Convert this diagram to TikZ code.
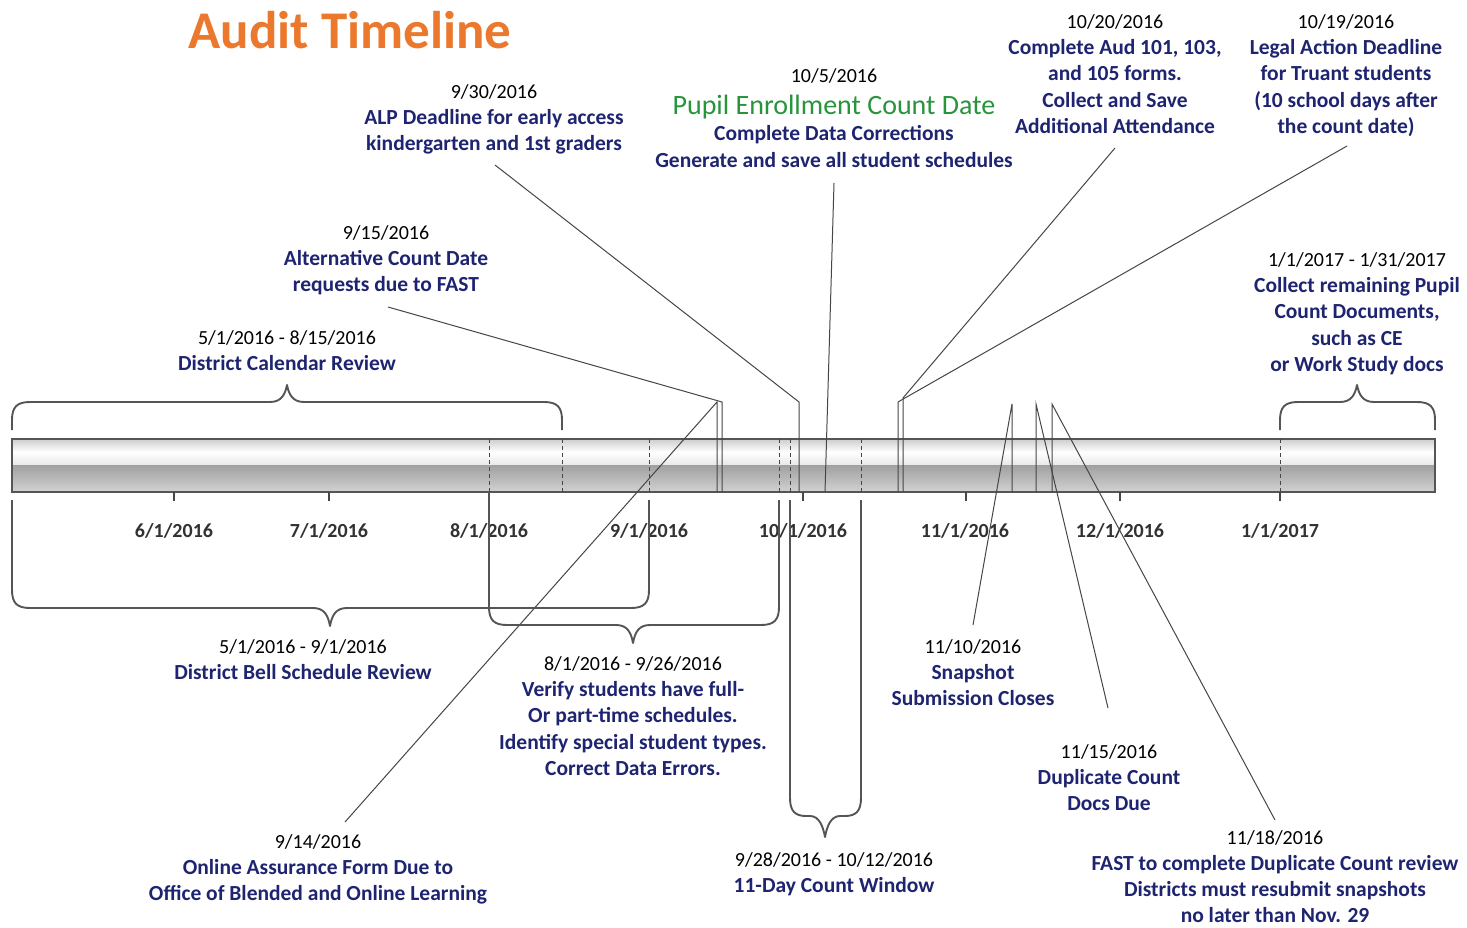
\documentclass[tikz,border=0pt]{standalone}
\usepackage{fontspec}
\setmainfont{Carlito}
\definecolor{navy}{RGB}{30,36,112}
\definecolor{okgreen}{RGB}{40,148,60}
\definecolor{ttlorange}{RGB}{235,120,45}
\definecolor{linegray}{RGB}{70,70,70}
\definecolor{bracegray}{RGB}{85,85,85}
\definecolor{axisgray}{RGB}{50,50,50}
\newcommand{\tdate}[1]{{\mdseries\color{black}\fontsize{20}{26.4}\selectfont #1}}
\begin{document}
\begin{tikzpicture}[x=1pt,y=-1pt,
  blk/.style={align=center, inner sep=0pt, anchor=north, text=navy, font=\fontsize{21.5}{26.4}\selectfont\bfseries},
  axl/.style={inner sep=0pt, text=axisgray, font=\fontsize{20}{24}\selectfont\bfseries},
  lead/.style={draw=linegray, line width=1pt},
  brc/.style={draw=bracegray, line width=1.9pt, line join=round},
  dsh/.style={draw=linegray, line width=1pt, dash pattern=on 4pt off 3pt},
  tck/.style={draw=linegray, line width=1.4pt}]
\useasboundingbox (0,0) rectangle (1467,928);
\fill[white] (0,0) rectangle (1467,928);

% title
\node[inner sep=0pt, text=ttlorange, font=\fontsize{53}{60}\selectfont\bfseries] (title) at (350,30.5) {Audit Timeline};

% timeline bar
\shade[top color={rgb,255:red,205;green,205;blue,205}, bottom color=white] (12,439) rectangle (1435,452);
\shade[top color=white, bottom color={rgb,255:red,232;green,232;blue,232}] (12,452) rectangle (1435,465);
\shade[top color={rgb,255:red,160;green,160;blue,160}, bottom color={rgb,255:red,210;green,210;blue,210}] (12,465) rectangle (1435,492);
\draw[draw=bracegray, line width=1.5pt] (12,439) rectangle (1435,492);

% dashed markers inside the bar
\foreach \xx in {489,562,649,779,790,861,1280} {
  \draw[dsh] (\xx,439) -- (\xx,492);
}

% ticks
\foreach \xx in {174,329,803,966,1120,1280} {
  \draw[tck] (\xx,492) -- (\xx,501);
}

% axis labels
\node[axl] (a06) at (174,531) {6/1/2016};
\node[axl] (a07) at (329,531) {7/1/2016};
\node[axl] (a08) at (489,531) {8/1/2016};
\node[axl] (a09) at (649,531) {9/1/2016};
\node[axl] (a10) at (803,531) {10/1/2016};
\node[axl] (a11) at (965,531) {11/1/2016};
\node[axl] (a12) at (1120,531) {12/1/2016};
\node[axl] (a01) at (1280,531) {1/1/2017};

% leader coordinates
\coordinate (b914) at (717,492); \coordinate (k914) at (717,402); \coordinate (e914) at (345,822);
\coordinate (b915) at (722,492); \coordinate (k915) at (722,402); \coordinate (e915) at (388,307);
\coordinate (b930) at (799,492); \coordinate (k930) at (799,402); \coordinate (e930) at (495,165);
\coordinate (b105) at (825,492); \coordinate (e105) at (834,183);
\coordinate (b1019) at (898,492); \coordinate (k1019) at (898,402); \coordinate (e1019) at (1347,146);
\coordinate (b1020) at (903,492); \coordinate (k1020) at (903,398); \coordinate (e1020) at (1115,148);
\coordinate (b1110) at (1012,492); \coordinate (k1110) at (1012,404); \coordinate (e1110) at (973,625);
\coordinate (b1115) at (1036,492); \coordinate (k1115) at (1036,404); \coordinate (e1115) at (1108,708);
\coordinate (b1118) at (1052,492); \coordinate (k1118) at (1052,404); \coordinate (e1118) at (1275,820);

\draw[lead] (b914) -- (k914) -- (e914);
\draw[lead] (b915) -- (k915) -- (e915);
\draw[lead] (b930) -- (k930) -- (e930);
\draw[lead] (b105) -- (e105);
\draw[lead] (b1019) -- (k1019) -- (e1019);
\draw[lead] (b1020) -- (k1020) -- (e1020);
\draw[lead] (b1110) -- (k1110) -- (e1110);
\draw[lead] (b1115) -- (k1115) -- (e1115);
\draw[lead] (b1118) -- (k1118) -- (e1118);

% braces
\draw[brc] (12,430) -- (12,420) .. controls (12,407) and (17,402) .. (30,402) -- (270,402) .. controls (281,402) and (285,395) .. (287,385) .. controls (289,395) and (293,402) .. (304,402) -- (544,402) .. controls (557,402) and (562,407) .. (562,420) -- (562,430);
\draw[brc] (12,500) -- (12,590) .. controls (12,603) and (17,608) .. (30,608) -- (313,608) .. controls (324,608) and (328,615) .. (330,626) .. controls (332,615) and (336,608) .. (347,608) -- (631,608) .. controls (644,608) and (649,603) .. (649,590) -- (649,500);
\draw[brc] (489,492) -- (489,607) .. controls (489,620) and (494,625) .. (507,625) -- (616,625) .. controls (627,625) and (631,632) .. (633,643) .. controls (635,632) and (639,625) .. (650,625) -- (761,625) .. controls (774,625) and (779,620) .. (779,607) -- (779,500);
\draw[brc] (790,500) -- (790,798) .. controls (790,811) and (795,816) .. (806,816) -- (810,816) .. controls (819,816) and (823,826) .. (825,837) .. controls (827,826) and (831,816) .. (840,816) -- (845,816) .. controls (856,816) and (861,811) .. (861,798) -- (861,500);
\draw[brc] (1280,430) -- (1280,420) .. controls (1280,407) and (1285,402) .. (1298,402) -- (1340,402) .. controls (1351,402) and (1355,395) .. (1357,385) .. controls (1359,395) and (1363,402) .. (1374,402) -- (1417,402) .. controls (1430,402) and (1435,407) .. (1435,420) -- (1435,430);

% text blocks
\node[blk] (t930) at (494,84) {\tdate{9/30/2016}\\ALP Deadline for early access\\kindergarten and 1st graders};
\node[blk] (t105) at (834,68) {\tdate{10/5/2016}\\[6pt]{\mdseries\color{okgreen}\fontsize{28}{30}\selectfont Pupil Enrollment Count Date}\\Complete Data Corrections\\Generate and save all student schedules};
\node[blk] (t1020) at (1115,14) {\tdate{10/20/2016}\\Complete Aud 101, 103,\\and 105 forms.\\Collect and Save\\Additional Attendance};
\node[blk] (t1019) at (1346,14) {\tdate{10/19/2016}\\Legal Action Deadline\\for Truant students\\(10 school days after\\the count date)};
\node[blk] (t915) at (386,225) {\tdate{9/15/2016}\\Alternative Count Date\\requests due to FAST};
\node[blk] (tcal) at (287,330) {\tdate{5/1/2016 - 8/15/2016}\\District Calendar Review};
\node[blk] (tcol) at (1357,252) {\tdate{1/1/2017 - 1/31/2017}\\Collect remaining Pupil\\Count Documents,\\such as CE\\or Work Study docs};
\node[blk] (tbell) at (303,639) {\tdate{5/1/2016 - 9/1/2016}\\District Bell Schedule Review};
\node[blk] (tver) at (633,656) {\tdate{8/1/2016 - 9/26/2016}\\Verify students have full-\\Or part-time schedules.\\Identify special student types.\\Correct Data Errors.};
\node[blk] (t1110) at (973,639) {\tdate{11/10/2016}\\Snapshot\\Submission Closes};
\node[blk] (t1115) at (1109,744) {\tdate{11/15/2016}\\Duplicate Count\\Docs Due};
\node[blk] (tcw) at (834,852) {\tdate{9/28/2016 - 10/12/2016}\\11-Day Count Window};
\node[blk] (t914) at (318,834) {\tdate{9/14/2016}\\Online Assurance Form Due to\\Office of Blended and Online Learning};
\node[blk, font=\fontsize{21.5}{26}\selectfont\bfseries] (t1118) at (1275,830) {\tdate{11/18/2016}\\FAST to complete Duplicate Count review\\Districts must resubmit snapshots\\no later than Nov. 29};
\end{tikzpicture}
\end{document}
